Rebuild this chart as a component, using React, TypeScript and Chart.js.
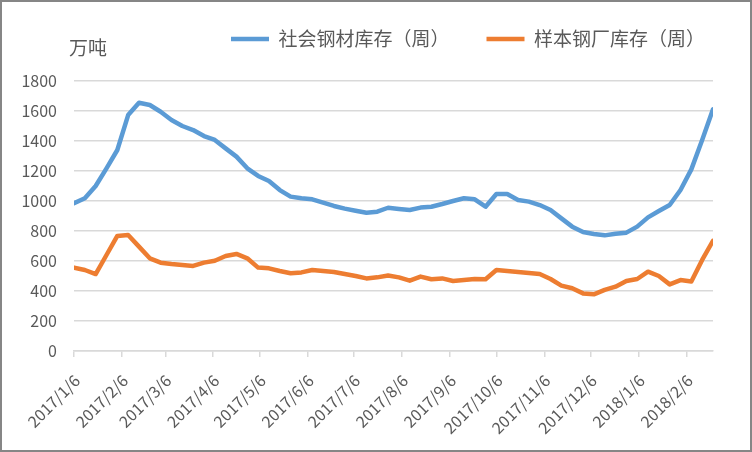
import React, { useEffect, useRef } from "react";
import { Chart, registerables } from "chart.js";

Chart.register(...registerables);

// ---- data ----
const startDate = "2017/1/6";
const weekCount = 60;
const seriesNames = ["社会钢材库存（周）", "样本钢厂库存（周）"];
const socialStock = [
  985, 1018, 1100, 1218, 1340, 1573, 1655, 1640, 1595, 1540,
  1500, 1473, 1433, 1407, 1351, 1296, 1218, 1167, 1133, 1073,
  1029, 1018, 1011, 989, 967, 949, 935, 922, 929, 955,
  947, 940, 956, 962, 980, 1000, 1018, 1011, 962, 1047,
  1047, 1007, 996, 973, 940, 884, 829, 793, 780, 771,
  782, 789, 829, 891, 933, 973, 1073, 1211, 1407, 1611,
];
const millStock = [
  556, 540, 513, 640, 767, 773, 696, 618, 589, 580,
  573, 567, 589, 602, 633, 647, 618, 556, 551, 533,
  518, 524, 540, 533, 527, 513, 500, 484, 491, 503,
  491, 469, 496, 478, 484, 467, 473, 480, 478, 540,
  533, 527, 520, 513, 480, 436, 418, 384, 378, 407,
  429, 467, 480, 529, 500, 444, 473, 464, 607, 735,
];
const tickLabels = [
  "2017/1/6", "2017/2/6", "2017/3/6", "2017/4/6", "2017/5/6", "2017/6/6", "2017/7/6",
  "2017/8/6", "2017/9/6", "2017/10/6", "2017/11/6", "2017/12/6", "2018/1/6", "2018/2/6",
];
const yTicks = [0, 200, 400, 600, 800, 1000, 1200, 1400, 1600, 1800];
const unitLabel = "万吨";

const DAY = 86400000;
const toUTC = (s: string) => {
  const [y, m, d] = s.split("/").map(Number);
  return Date.UTC(y, m - 1, d);
};
const start = toUTC(startDate);
const dayOf = (s: string) => Math.round((toUTC(s) - start) / DAY);
const weekDays = Array.from({ length: weekCount }, (_, i) => i * 7);
const tickDays = tickLabels.map(dayOf);

const FONT = '"Noto Sans CJK SC", "Noto Sans", sans-serif';
const TEXT = "#595959";
const GRID = "#D9D9D9";

const decor = {
  id: "decor",
  afterLayout(chart: any) {
    const lg = chart.legend;
    if (!lg) return;
    const w = lg.right - lg.left;
    const h = lg.bottom - lg.top;
    lg.left = 194;
    lg.right = 194 + w;
    lg.top = lg.top - 22.5;
    lg.bottom = lg.top + h;
  },
  afterDraw(chart: any) {
    const ctx = chart.ctx;
    ctx.save();
    ctx.fillStyle = TEXT;
    ctx.font = `19px ${FONT}`;
    ctx.textAlign = "left";
    ctx.textBaseline = "middle";
    ctx.fillText(unitLabel, 69, 48);
    ctx.strokeStyle = "#868686";
    ctx.lineWidth = 2;
    ctx.strokeRect(1, 1, chart.width - 2, chart.height - 2);
    ctx.restore();
  },
};

export default function App() {
  const ref = useRef<HTMLCanvasElement>(null);
  useEffect(() => {
    document.body.style.margin = "0";
    const canvas = ref.current;
    if (!canvas) return;
    const chart = new Chart(canvas, {
      type: "line",
      data: {
        datasets: [
          {
            label: seriesNames[0],
            data: weekDays.map((d, i) => ({ x: d, y: socialStock[i] })),
            borderColor: "#5B9BD5",
            backgroundColor: "#5B9BD5",
            borderWidth: 4.5,
            pointRadius: 0,
            tension: 0,
            borderJoinStyle: "round",
            borderCapStyle: "round",
          },
          {
            label: seriesNames[1],
            data: weekDays.map((d, i) => ({ x: d, y: millStock[i] })),
            borderColor: "#ED7D31",
            backgroundColor: "#ED7D31",
            borderWidth: 4.5,
            pointRadius: 0,
            tension: 0,
            borderJoinStyle: "round",
            borderCapStyle: "round",
          },
        ],
      },
      options: {
        animation: false,
        responsive: true,
        maintainAspectRatio: false,
        layout: { padding: { left: 0, right: 39, top: 15, bottom: 0 } },
        plugins: {
          tooltip: { enabled: false },
          legend: {
            position: "top",
            align: "start",
            labels: {
              usePointStyle: true,
              pointStyle: "line",
              pointStyleWidth: 38,
              padding: 37,
              color: TEXT,
              font: { family: FONT, size: 19 },
            },
          },
        },
        scales: {
          x: {
            type: "linear",
            min: 0,
            max: weekDays[weekDays.length - 1],
            afterBuildTicks: (scale: any) => {
              scale.ticks = tickDays.map((v) => ({ value: v }));
            },
            afterFit: (scale: any) => {
              scale.height = 101;
            },
            ticks: {
              autoSkip: false,
              minRotation: 45,
              maxRotation: 45,
              padding: 14,
              labelOffset: 3,
              color: TEXT,
              font: { family: FONT, size: 16 },
              callback: (_v: any, i: number) => tickLabels[i],
            },
            grid: {
              drawOnChartArea: false,
              drawTicks: true,
              tickLength: 6,
              color: GRID,
              lineWidth: 1.5,
            },
            border: { color: GRID, width: 1.5 },
          },
          y: {
            min: yTicks[0],
            max: yTicks[yTicks.length - 1],
            afterBuildTicks: (scale: any) => {
              scale.ticks = yTicks.map((v) => ({ value: v }));
            },
            afterFit: (scale: any) => {
              scale.width = 74;
            },
            ticks: {
              padding: 17,
              color: TEXT,
              font: { family: FONT, size: 16 },
              callback: (v: any) => String(v),
            },
            grid: { color: GRID, lineWidth: 1.5, drawTicks: false },
            border: { display: false },
          },
        },
      },
      plugins: [decor],
    });
    return () => chart.destroy();
  }, []);
  return (
    <div style={{ width: 752, height: 452, position: "relative", overflow: "hidden", background: "#fff" }}>
      <canvas ref={ref} />
    </div>
  );
}
